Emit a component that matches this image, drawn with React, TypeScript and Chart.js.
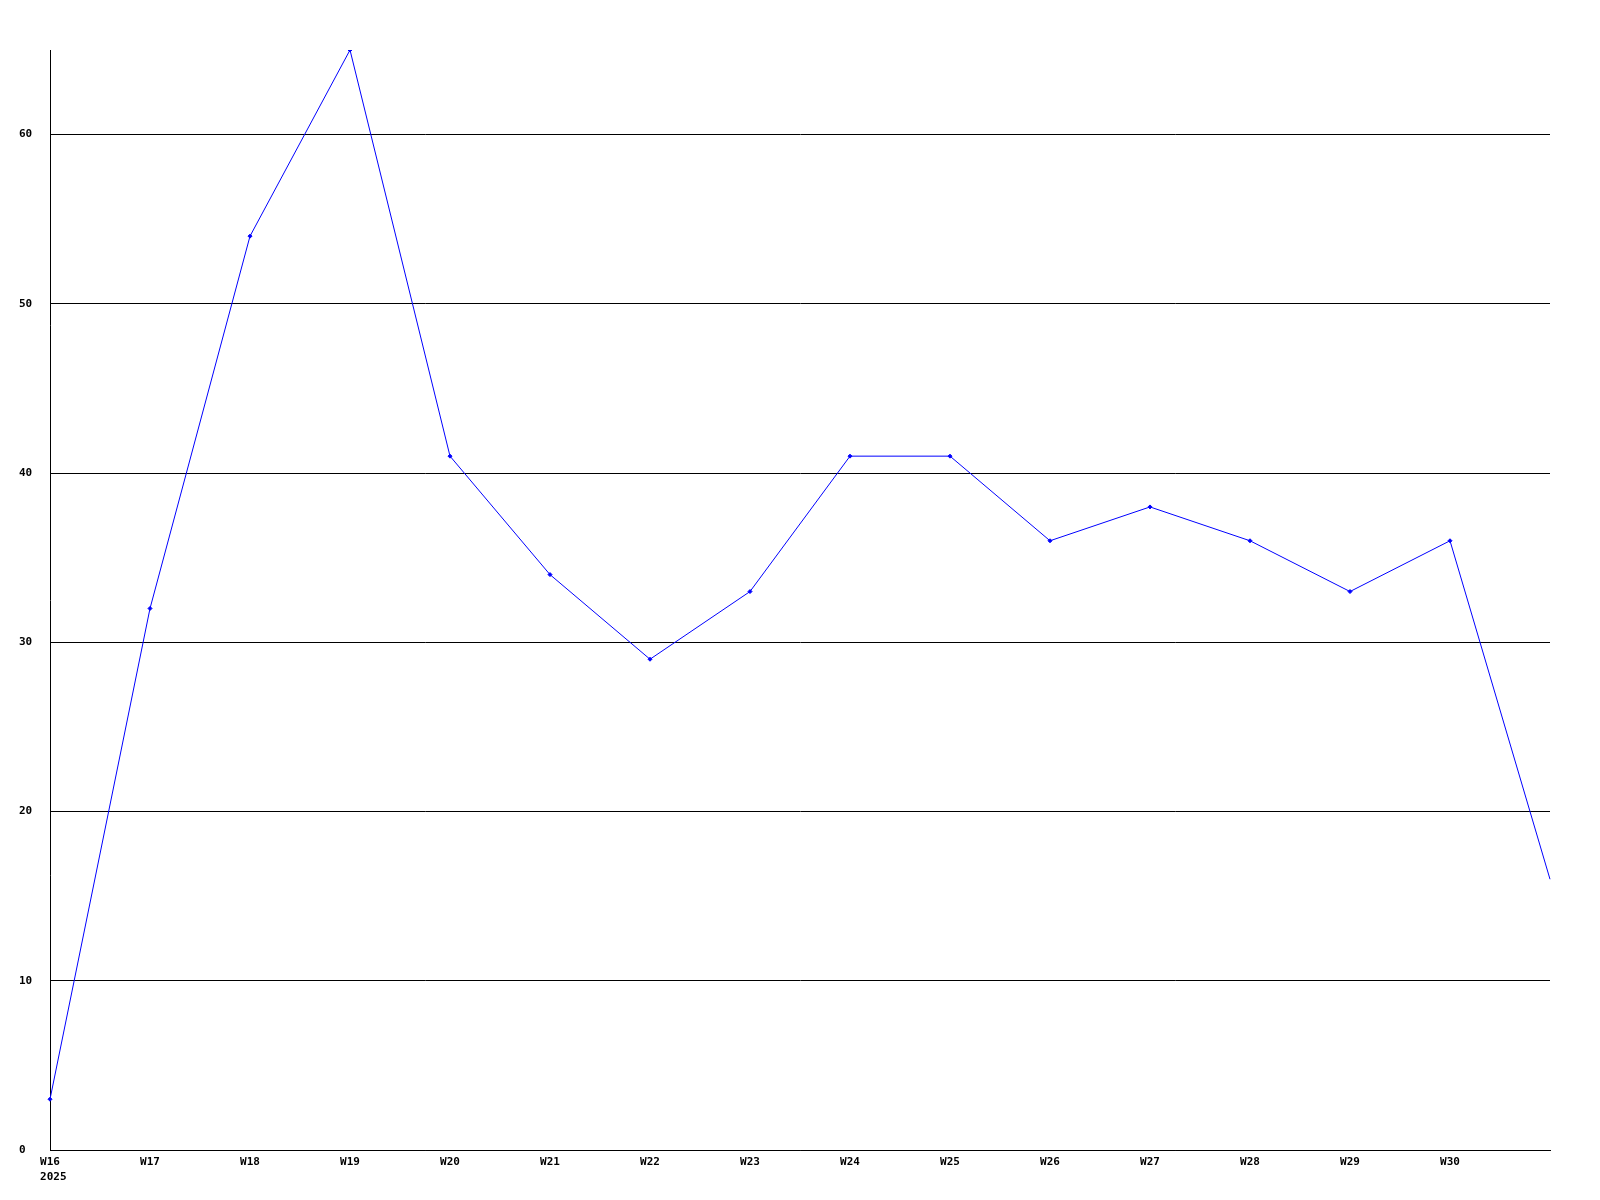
import React, { useEffect, useRef } from "react";
import { Chart, registerables } from "chart.js";

Chart.register(...registerables);

const weekLabels: (string | string[])[] = [
  ["W16", " 2025"], "W17", "W18", "W19", "W20", "W21", "W22", "W23",
  "W24", "W25", "W26", "W27", "W28", "W29", "W30", "",
];
const seriesValues: number[] = [3, 32, 54, 65, 41, 34, 29, 33, 41, 41, 36, 38, 36, 33, 36, 16];
const yMin = 0;
const yMax = 65;
const yStep = 10;

const FONT = {
  family: "'DejaVu Sans Mono', 'Liberation Mono', monospace",
  size: 11,
  weight: "bold" as const,
  lineHeight: "15px",
};

export default function App() {
  const ref = useRef<HTMLCanvasElement | null>(null);
  useEffect(() => {
    if (!ref.current) return;
    const lastIndex = seriesValues.length - 1;
    const chart = new Chart(ref.current, {
      type: "line",
      data: {
        labels: weekLabels,
        datasets: [
          {
            data: seriesValues,
            borderColor: "#0000ff",
            backgroundColor: "#0000ff",
            borderWidth: 1,
            pointStyle: "rectRot",
            pointRadius: (c: any) => (c.dataIndex === lastIndex ? 0 : 2),
            pointBorderWidth: 1,
            tension: 0,
            fill: false,
          },
        ],
      },
      options: {
        responsive: false,
        animation: false,
        devicePixelRatio: 1,
        layout: { padding: { left: 19, top: 50, right: 50, bottom: 0 } },
        plugins: { legend: { display: false }, tooltip: { enabled: false } },
        scales: {
          x: {
            type: "category",
            offset: false,
            grid: { display: false, drawTicks: false },
            border: { display: true, color: "#000000", width: 1 },
            ticks: {
              color: "#000000",
              font: FONT,
              padding: 5,
              autoSkip: false,
              maxRotation: 0,
              minRotation: 0,
            },
            afterFit: (s: any) => {
              s.height = 50;
            },
          },
          y: {
            min: yMin,
            max: yMax,
            grid: { color: "#000000", lineWidth: 1, drawTicks: false },
            border: { display: true, color: "#000000", width: 1 },
            ticks: {
              stepSize: yStep,
              color: "#000000",
              font: FONT,
              padding: 17,
              crossAlign: "far",
            },
            afterBuildTicks: (s: any) => {
              s.ticks = s.ticks.filter((t: any) => t.value % yStep === 0);
            },
            afterFit: (s: any) => {
              s.width = 31;
            },
          },
        },
      },
    });
    return () => chart.destroy();
  }, []);
  return (
    <div style={{ position: "fixed", left: 0, top: 0, width: 1600, height: 1200, background: "#ffffff" }}>
      <canvas ref={ref} width={1600} height={1200} style={{ width: 1600, height: 1200, display: "block" }} />
    </div>
  );
}
